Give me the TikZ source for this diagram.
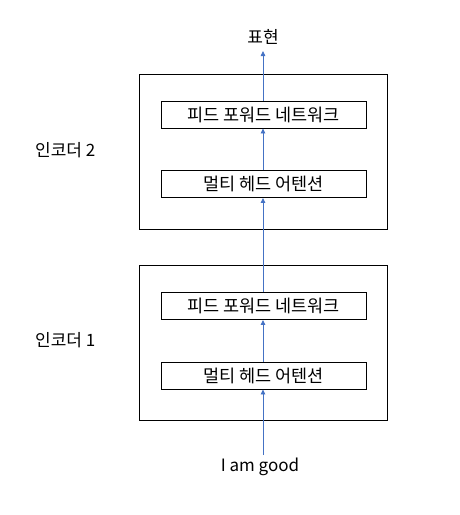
\documentclass[tikz,border=0pt]{standalone}
\usepackage{fontspec}
\setmainfont{Noto Sans CJK KR}
\usetikzlibrary{arrows.meta}
\definecolor{arrowblue}{HTML}{4472C4}
\tikzset{
  enc/.style={draw=black, line width=0.9pt, minimum width=248pt, minimum height=155pt, inner sep=0pt},
  layerbox/.style={draw=black, line width=0.9pt, minimum width=205pt, minimum height=27pt, inner sep=0pt, font=\fontsize{17.5}{20}\selectfont},
  lbl/.style={font=\fontsize{17}{20}\selectfont, inner sep=0pt},
  flow/.style={draw=arrowblue, line width=0.8pt, -{Triangle[length=5pt,width=4.5pt]}}
}
\begin{document}
\begin{tikzpicture}[x=1pt,y=-1pt]
\useasboundingbox (0,0) rectangle (460,515);
\node[enc] (enc2) at (263,151.5) {};
\node[enc] (enc1) at (263,342.5) {};
\node[layerbox] (ffn2) at (263.5,114.5) {피드 포워드 네트워크};
\node[layerbox] (mha2) at (263.5,184) {멀티 헤드 어텐션};
\node[layerbox] (ffn1) at (263.5,306) {피드 포워드 네트워크};
\node[layerbox] (mha1) at (263.5,375.5) {멀티 헤드 어텐션};
\node[lbl] (out) at (263,37) {표현};
\node[lbl] (in) at (260,467) {I am good};
\node[lbl, anchor=west] (l2) at (35,150) {인코더 2};
\node[lbl, anchor=west] (l1) at (35,340) {인코더 1};
\coordinate (outtip) at (263,51);
\coordinate (instart) at (263,455);
\draw[flow] (instart) -- (mha1.south -| instart);
\draw[flow] (mha1.north -| instart) -- (ffn1.south -| instart);
\draw[flow] (ffn1.north -| instart) -- (mha2.south -| instart);
\draw[flow] (mha2.north -| instart) -- (ffn2.south -| instart);
\draw[flow] (ffn2.north -| instart) -- (outtip);
\end{tikzpicture}
\end{document}
